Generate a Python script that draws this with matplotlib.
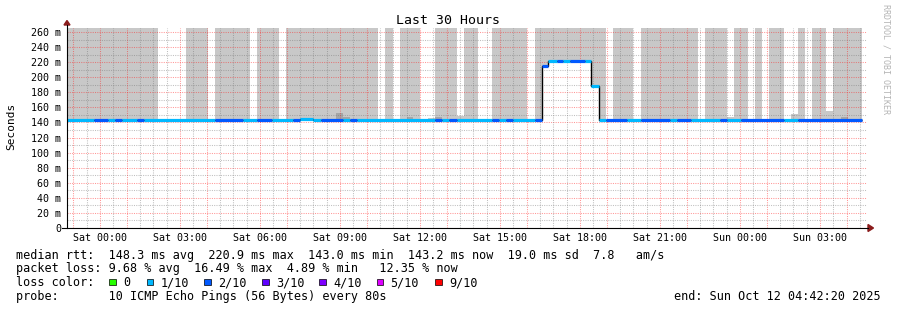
import matplotlib
matplotlib.use("Agg")
import matplotlib.pyplot as plt
from matplotlib.patches import Rectangle, Polygon
from matplotlib.lines import Line2D
import numpy as np

W, H = 897, 310
MONO = "DejaVu Sans Mono"

# ---------------- data ----------------
tick_hours = [0, 3, 6, 9, 12, 15, 18, 21, 24, 27]
tick_labels = ["Sat 00:00", "Sat 03:00", "Sat 06:00", "Sat 09:00", "Sat 12:00",
               "Sat 15:00", "Sat 18:00", "Sat 21:00", "Sun 00:00", "Sun 03:00"]
y_ticks = [0, 20, 40, 60, 80, 100, 120, 140, 160, 180, 200, 220, 240, 260]
y_tick_labels = ["0", "20 m", "40 m", "60 m", "80 m", "100 m", "120 m", "140 m",
                 "160 m", "180 m", "200 m", "220 m", "240 m", "260 m"]

# median rtt (ms) as steps, hours relative to Sat 00:00
med_edges = [-1.24, -0.23, 0.29, 0.56, 0.81, 1.38, 1.64, 4.31, 5.35, 5.88, 6.45,
             7.24, 7.50, 7.98, 8.28, 9.10, 9.37, 9.62, 12.56, 12.82, 13.08, 13.37,
             14.69, 14.95, 15.22, 15.48, 16.31, 16.56, 16.81, 17.12, 17.36, 17.62,
             18.18, 18.41, 18.70, 18.97, 19.75, 20.28, 21.37, 21.62, 22.16, 23.24,
             23.51, 24.03, 25.64, 26.17, 28.57]
med_ms = [143.3, 143.3, 143.3, 143.3, 143.3, 143.3, 143.3, 143.3, 143.3, 143.3,
          143.3, 143.3, 144.8, 143.3, 143.3, 143.3, 143.3, 143.3, 143.3, 143.3,
          143.3, 143.3, 143.3, 143.3, 143.3, 143.3, 143.3, 214.5, 220.9, 220.9,
          220.9, 220.9, 220.9, 188.8, 143.3, 143.3, 143.3, 143.3, 143.3, 143.3,
          143.3, 143.3, 143.3, 143.3, 143.2, 143.2]
med_loss = [1, 2, 1, 2, 1, 2, 1, 2, 1, 2, 1, 2, 1, 1, 2, 1, 2, 1, 2, 1, 2, 1, 2,
            1, 2, 1, 2, 2, 1, 2, 1, 2, 1, 1, 1, 2, 1, 2, 1, 2, 1, 2, 1, 2, 1, 2]

# smoke (spread of pings), light
smoke_start = [-1.24, 3.22, 4.31, 5.88, 6.97, 10.68, 11.25, 12.30, 12.56, 13.37,
               13.64, 14.69, 16.31, 16.56, 16.81, 18.41, 18.70, 19.23, 20.28,
               22.68, 23.51, 23.77, 24.56, 25.08, 25.91, 26.17, 26.69, 27.21, 27.48]
smoke_end = [2.16, 4.06, 5.62, 6.70, 10.41, 10.97, 12.01, 12.56, 13.37, 13.64,
             14.16, 16.02, 16.56, 16.81, 18.41, 18.70, 18.97, 19.98, 22.41,
             23.51, 23.77, 24.29, 24.82, 25.64, 26.17, 26.43, 27.21, 27.48, 28.57]
smoke_low = [142, 142, 142, 142, 142, 142, 142, 142, 142, 142,
             142, 142, 142, 214.5, 220.9, 188.8, 142, 142, 142,
             142, 142, 142, 142, 142, 142, 142, 142, 142, 142]
smoke_high = [300, 300, 300, 300, 300, 300, 300, 146, 300, 148,
              300, 300, 300, 300, 300, 300, 300, 300, 300,
              300, 147, 300, 300, 300, 151, 300, 300, 155, 300]

# denser smoke patches near the median
dense_start = [8.85, 9.11, 11.50, 12.56, 24.03, 27.78]
dense_end = [9.11, 9.37, 11.74, 12.82, 24.29, 28.04]
dense_high = [153, 147, 147, 147, 145, 147]

loss_colors = {0: "#26ff00", 1: "#00b8ff", 2: "#0059ff", 3: "#5e00ff",
               4: "#7e00ff", 5: "#dd00ff", 9: "#ff0000"}
legend_keys = [0, 1, 2, 3, 4, 5, 9]
legend_labels = ["0", "1/10", "2/10", "3/10", "4/10", "5/10", "9/10"]

line_rtt = "median rtt:  148.3 ms avg  220.9 ms max  143.0 ms min  143.2 ms now  19.0 ms sd  7.8   am/s"
line_loss = "packet loss: 9.68 % avg  16.49 % max  4.89 % min   12.35 % now"
line_probe = "probe:       10 ICMP Echo Pings (56 Bytes) every 80s"
end_text = "end: Sun Oct 12 04:42:20 2025"

# ---------------- figure ----------------
def fx(px):
    return px / W

def fy(py):
    return 1 - py / H

fig = plt.figure(figsize=(W / 100, H / 100), dpi=100)
fig.patch.set_facecolor("white")
ax = fig.add_axes([fx(66.5), fy(228), 800 / W, 200 / H])
ax.set_xlim(-1.26, 28.74)
ax.set_ylim(0, 265.3)
for s in ax.spines.values():
    s.set_visible(False)
ax.set_facecolor("white")

# smoke
ax.bar(smoke_start, np.array(smoke_high) - np.array(smoke_low),
       width=np.array(smoke_end) - np.array(smoke_start), bottom=smoke_low,
       align="edge", color="#c8c8c8", linewidth=0, zorder=1)
ax.bar(dense_start, np.array(dense_high) - 142,
       width=np.array(dense_end) - np.array(dense_start), bottom=142,
       align="edge", color="#a6a6a6", linewidth=0, zorder=1.1)

# grid
red = (1.0, 0.1, 0.1, 0.45)
gray = (0.45, 0.45, 0.45, 0.45)
dot = (0, (1, 1.2))
for v in range(0, 266, 10):
    ax.axhline(v, color=red if v % 20 == 0 else gray, lw=0.75, ls=dot, zorder=2)
for h in np.arange(-1.0, 28.75, 0.5):
    if h != int(h):
        c = gray
    elif int(h) % 3 == 2 and h >= 0:
        c = gray
    else:
        c = red
    ax.axvline(h, color=c, lw=0.75, ls=dot, zorder=2)

# median line
ax.stairs(med_ms, med_edges, baseline=None, color="black", lw=1.0, zorder=3)
for i in range(len(med_ms)):
    ax.hlines(med_ms[i], med_edges[i], med_edges[i + 1],
              color=loss_colors[med_loss[i]], lw=2.3, capstyle="butt", zorder=4)

# ticks
ax.set_xticks(tick_hours)
ax.set_xticklabels(tick_labels, fontfamily=MONO, fontsize=7.2)
ax.set_yticks(y_ticks)
ax.set_yticklabels(y_tick_labels, fontfamily=MONO, fontsize=7.2)
ax.tick_params(axis="both", length=0)
ax.tick_params(axis="x", pad=3.5)
ax.tick_params(axis="y", pad=4)

# axes lines and arrows
fig.add_artist(Line2D([fx(67), fx(67)], [fy(228), fy(25)], color="black", lw=0.8))
fig.add_artist(Line2D([fx(62), fx(868)], [fy(228), fy(228)], color="black", lw=0.8))
fig.add_artist(Polygon([(fx(64), fy(25)), (fx(70), fy(25)), (fx(67), fy(20.5))],
                       closed=True, color="#8b1c1c", transform=fig.transFigure))
fig.add_artist(Polygon([(fx(868), fy(224.5)), (fx(868), fy(231.5)), (fx(873.5), fy(228))],
                       closed=True, color="#8b1c1c", transform=fig.transFigure))

# texts
fig.text(fx(448), fy(20), "Last 30 Hours", ha="center", va="center",
         fontfamily=MONO, fontsize=9.5)
fig.text(fx(11), fy(126), "Seconds", ha="center", va="center", rotation=90,
         fontfamily=MONO, fontsize=8)
fig.text(fx(886), fy(4), "RRDTOOL / TOBI OETIKER", ha="center", va="top",
         rotation=270, fontfamily=MONO, fontsize=6, color="#b4b4b4")

fig.text(fx(16), fy(255), line_rtt, ha="left", va="center", fontfamily=MONO, fontsize=8.5)
fig.text(fx(16), fy(268.5), line_loss, ha="left", va="center", fontfamily=MONO, fontsize=8.5)
fig.text(fx(16), fy(282.5), "loss color:", ha="left", va="center", fontfamily=MONO, fontsize=8.5)
fig.text(fx(16), fy(296.5), line_probe, ha="left", va="center", fontfamily=MONO, fontsize=8.5)
fig.text(fx(881), fy(296.5), end_text, ha="right", va="center", fontfamily=MONO, fontsize=8.5)

box_x = [109, 146.7, 204, 262.3, 319.3, 376.7, 435]
lab_x = [123, 160.7, 218, 276, 333.3, 390, 449]
for k, lab, bx, lx in zip(legend_keys, legend_labels, box_x, lab_x):
    fig.add_artist(Rectangle((fx(bx), fy(285)), 6.5 / W, 6.5 / H,
                             facecolor=loss_colors[k], edgecolor="black", lw=0.5,
                             transform=fig.transFigure))
    fig.text(fx(lx), fy(282.5), lab, ha="left", va="center", fontfamily=MONO, fontsize=8.5)

fig.savefig("out.png", dpi=100, facecolor="white")
